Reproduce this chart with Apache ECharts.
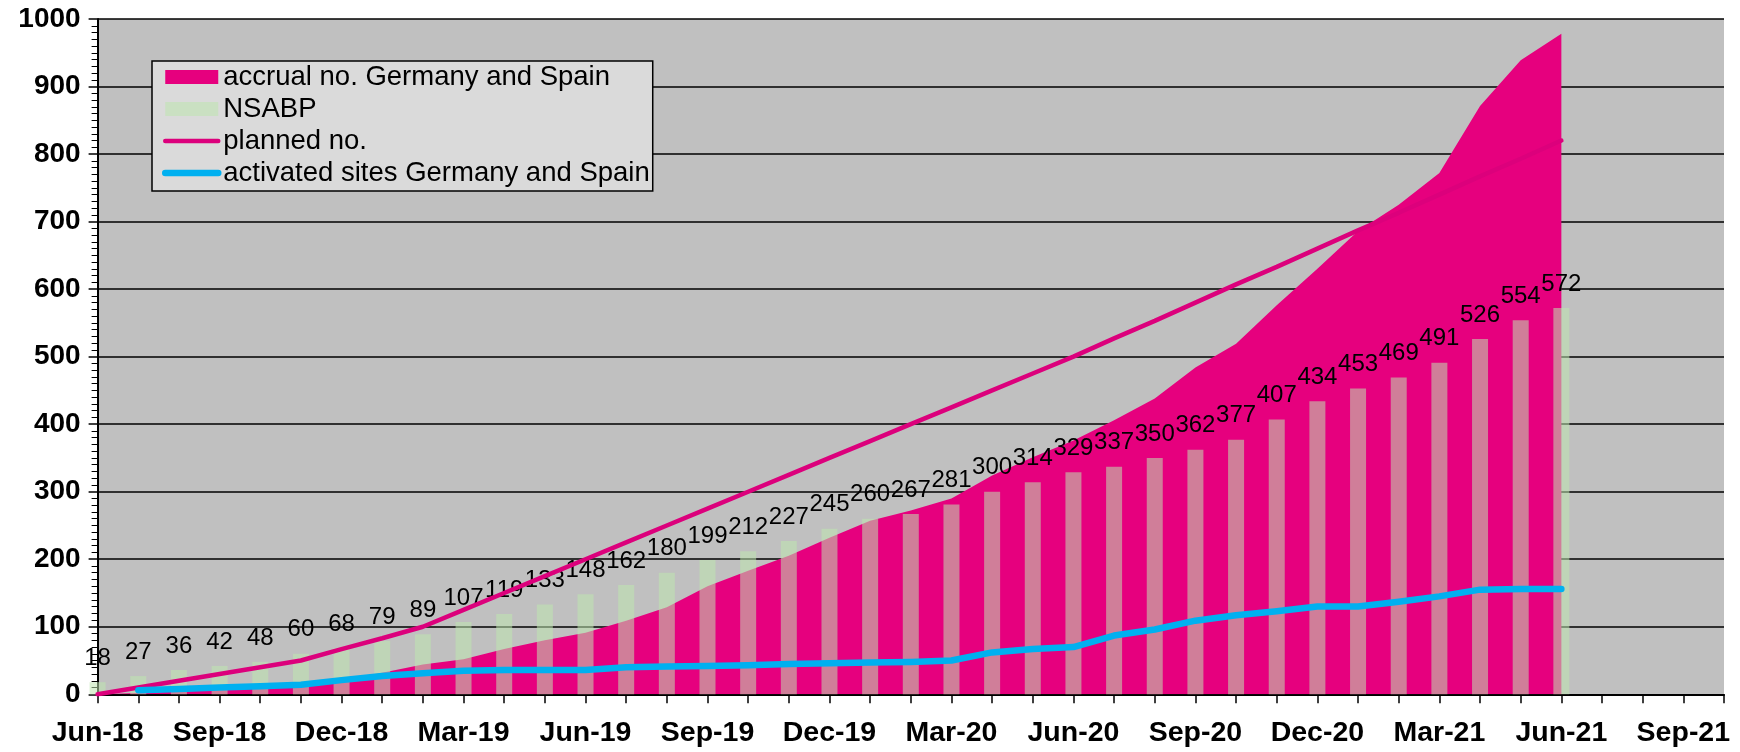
<!DOCTYPE html>
<html>
<head>
<meta charset="utf-8">
<script src="https://cdn.jsdelivr.net/npm/echarts@6/dist/echarts.min.js"></script>
<style>
  html, body { margin: 0; padding: 0; background: #fff; }
  #chart { width: 1740px; height: 752px; }
</style>
</head>
<body>
<div id="chart"></div>
<script>
const months = ['Jun-18','Jul-18','Aug-18','Sep-18','Oct-18','Nov-18','Dec-18',
  'Jan-19','Feb-19','Mar-19','Apr-19','May-19','Jun-19','Jul-19','Aug-19','Sep-19','Oct-19','Nov-19','Dec-19',
  'Jan-20','Feb-20','Mar-20','Apr-20','May-20','Jun-20','Jul-20','Aug-20','Sep-20','Oct-20','Nov-20','Dec-20',
  'Jan-21','Feb-21','Mar-21','Apr-21','May-21','Jun-21','Jul-21','Aug-21','Sep-21','Oct-21'];

const nsabp = [18,27,36,42,48,60,68,79,89,107,119,133,148,162,180,199,212,227,245,260,267,281,300,314,329,337,350,362,377,407,434,453,469,491,526,554,572];

const accrual = [0,2,4,6,10,16,22,32,44,52,67,80,91,109,129,160,183,205,232,257,272,290,324,351,376,406,438,484,519,576,630,686,725,772,871,939,978];

const planned = [0,10,20,30,40,50,67,83,100,125,150,175,200,225,250,275,300,325,350,375,400,425,450,475,500,527,553,580,607,633,660,687,713,740,767,793,820];

const activated = [null,6,8,10,12,14,21,27,31,35,36,36,36,40,41,42,43,45,46,47,48,50,62,67,70,87,96,109,117,123,130,130,137,145,155,156,156];

const yTicks = [0,100,200,300,400,500,600,700,800,900,1000];

const FONT = '"Liberation Sans", Arial, sans-serif';

const chart = echarts.init(document.getElementById('chart'), null, { renderer: 'canvas' });

chart.setOption({
  animation: false,
  backgroundColor: '#ffffff',
  grid: {
    left: 97.6, top: 19, right: 16, bottom: 57.7,
    show: true, backgroundColor: '#c0c0c0', borderWidth: 0
  },
  legend: {
    data: [
      { name: 'accrual no. Germany and Spain', icon: 'rect' },
      { name: 'NSABP', icon: 'rect' },
      { name: 'planned no.', itemStyle: { opacity: 0 } },
      { name: 'activated sites Germany and Spain', itemStyle: { opacity: 0 } }
    ],
    orient: 'vertical',
    left: 152, top: 61,
    itemWidth: 53, itemHeight: 14, itemGap: 0,
    backgroundColor: '#dadada',
    borderColor: '#000', borderWidth: 1.5,
    padding: [0, 3, 2, 10],
    selectedMode: false,
    lineStyle: { width: 'inherit', cap: 'round' },
    textStyle: { fontFamily: FONT, fontSize: 27.5, lineHeight: 32, color: '#000' }
  },
  xAxis: {
    type: 'category',
    data: months,
    boundaryGap: false,
    axisLine: { show: true, lineStyle: { color: '#000', width: 2 } },
    axisTick: { show: true, interval: 0, length: 9, lineStyle: { color: '#000', width: 1.5 } },
    axisLabel: {
      interval: 2, margin: 24, color: '#000',
      fontFamily: FONT, fontSize: 28.5, fontWeight: 'bold'
    },
    splitLine: { show: false }
  },
  yAxis: {
    type: 'value',
    min: yTicks[0], max: yTicks[yTicks.length - 1], interval: 100,
    axisLine: { show: true, lineStyle: { color: '#000', width: 2 } },
    axisTick: { show: true, length: 9, lineStyle: { color: '#000', width: 1.5 } },
    minorTick: { show: true, splitNumber: 10, length: 6, lineStyle: { color: '#000', width: 1 } },
    axisLabel: {
      margin: 17, color: '#000',
      fontFamily: FONT, fontSize: 28, fontWeight: 'bold',
      formatter: function (v) { return String(v); }
    },
    splitLine: { show: true, lineStyle: { color: '#000', width: 1.5 } }
  },
  series: [
    {
      name: 'accrual no. Germany and Spain',
      type: 'line',
      data: accrual,
      symbol: 'none',
      color: '#e6007e',
      itemStyle: { color: '#e6007e' },
      lineStyle: { width: 0, color: '#e6007e' },
      areaStyle: { color: '#e6007e', opacity: 1 },
      z: 1
    },
    {
      name: 'NSABP',
      type: 'bar',
      data: nsabp,
      barWidth: 16,
      itemStyle: { color: 'rgba(190,230,175,0.55)' },
      label: {
        show: true, position: 'top', distance: 12,
        fontFamily: FONT, fontSize: 24, color: '#000'
      },
      z: 2
    },
    {
      name: 'planned no.',
      type: 'line',
      data: planned,
      symbol: 'none',
      color: '#dc007c',
      lineStyle: { width: 4.5, color: '#dc007c', cap: 'round' },
      z: 3
    },
    {
      name: 'activated sites Germany and Spain',
      type: 'line',
      data: activated,
      symbol: 'none',
      color: '#00b0f0',
      lineStyle: { width: 6.5, color: '#00b0f0', cap: 'round', join: 'round' },
      z: 4
    }
  ]
});
</script>
</body>
</html>
